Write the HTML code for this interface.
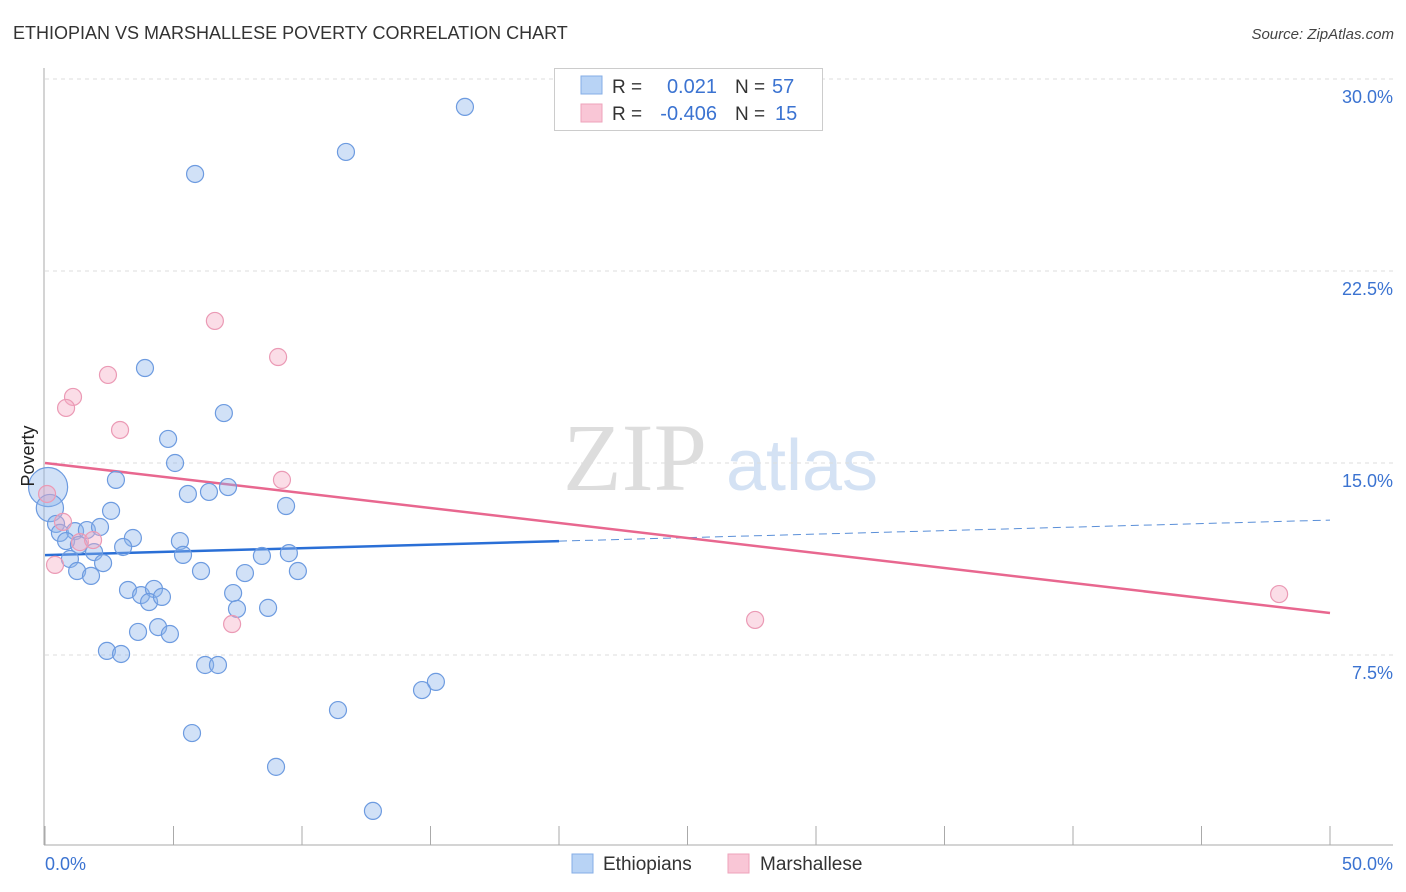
<!DOCTYPE html>
<html><head><meta charset="utf-8"><style>
body{margin:0;background:#fff;font-family:"Liberation Sans",sans-serif}
svg{display:block}
</style></head><body>
<svg id="chart" width="1406" height="892" xmlns="http://www.w3.org/2000/svg">
<text x="13" y="39" font-size="18" fill="#333">ETHIOPIAN VS MARSHALLESE POVERTY CORRELATION CHART</text>
<text x="1394" y="39" font-size="15" fill="#444" font-style="italic" text-anchor="end">Source: ZipAtlas.com</text>
<g><text x="635" y="490" font-size="96" fill="#ddd" font-family="Liberation Serif,serif" text-anchor="middle">ZIP</text><text x="802" y="490" font-size="72" fill="#d4e2f4" text-anchor="middle">atlas</text></g>
<g id="grid"></g><g id="axes"></g>
<g id="trends"></g><g id="points"></g>
<text transform="translate(34,456) rotate(-90)" font-size="18" fill="#222" text-anchor="middle">Poverty</text>
<text x="45" y="870" font-size="18" fill="#3b73d1">0.0%</text>
<text x="1393" y="870" font-size="18" fill="#3b73d1" text-anchor="end">50.0%</text>
<g>
<rect x="554.5" y="68.5" width="268" height="62" fill="#fff" stroke="#ccc"/>
<rect x="581" y="76" width="21" height="18" fill="#b8d3f5" stroke="#85aee6"/>
<rect x="581" y="104" width="21" height="18" fill="#f9c6d6" stroke="#eea3bb"/>
<text x="612" y="93" font-size="19" fill="#333">R = </text><text x="717" y="93" font-size="20" fill="#3b73d1" text-anchor="end">0.021</text>
<text x="735" y="93" font-size="19" fill="#333">N = </text><text x="772" y="93" font-size="20" fill="#3b73d1">57</text>
<text x="612" y="120" font-size="19" fill="#333">R = </text><text x="717" y="120" font-size="20" fill="#3b73d1" text-anchor="end">-0.406</text>
<text x="735" y="120" font-size="19" fill="#333">N = </text><text x="775" y="120" font-size="20" fill="#3b73d1">15</text>
</g>
<g>
<rect x="572" y="854" width="21" height="19" fill="#b8d3f5" stroke="#85aee6"/>
<text x="603" y="870" font-size="19" fill="#333">Ethiopians</text>
<rect x="728" y="854" width="21" height="19" fill="#f9c6d6" stroke="#eea3bb"/>
<text x="760" y="870" font-size="19" fill="#333">Marshallese</text>
</g>
</svg>
<script>
const yTicks=[7.5,15,22.5,30];
const yTickLabels=["7.5%","15.0%","22.5%","30.0%"];
const xTicks=[0,5,10,15,20,25,30,35,40,45,50];
const ethX=[16.34,11.71,5.84,3.89,6.96,4.79,5.06,2.76,5.56,6.38,7.12,9.38,2.57,0.12,0.19,0.43,0.58,1.17,1.63,2.14,0.82,1.32,3.42,3.04,1.91,5.25,5.37,0.97,2.26,1.25,1.79,9.49,8.44,9.84,6.07,7.78,3.23,3.74,4.24,4.05,4.55,7.32,7.47,8.68,4.40,3.62,4.86,2.41,2.96,6.23,6.73,15.21,14.67,11.40,5.72,8.99,12.76];
const ethY=[28.91,27.15,26.29,18.71,16.95,15.94,15.0,14.34,13.79,13.87,14.06,13.32,13.13,14.06,13.24,12.62,12.27,12.34,12.38,12.5,11.95,11.8,12.07,11.72,11.52,11.95,11.41,11.25,11.09,10.78,10.59,11.48,11.37,10.78,10.78,10.70,10.04,9.84,10.08,9.57,9.77,9.92,9.30,9.34,8.59,8.40,8.32,7.66,7.54,7.11,7.11,6.45,6.13,5.35,4.45,3.13,1.41];
const ethSize=[1,1,1,1,1,1,1,1,1,1,1,1,1,2.3,1.6,1,1,1,1,1,1,1,1,1,1,1,1,1,1,1,1,1,1,1,1,1,1,1,1,1,1,1,1,1,1,1,1,1,1,1,1,1,1,1,1,1,1];
const marX=[6.61,9.07,2.45,1.09,0.82,2.92,9.22,0.08,0.70,1.36,1.87,0.39,7.28,27.63,48.02];
const marY=[20.55,19.14,18.44,17.58,17.15,16.29,14.34,13.79,12.70,11.91,11.99,11.02,8.71,8.87,9.88];
const ethTrend=[11.4,12.77]; const ethSolidEnd=20;
const marTrend=[15.0,9.14];
const X=v=>45+v/50*1285, Y=v=>847-v/7.5*192;
const NS="http://www.w3.org/2000/svg";
function mk(p,t,a){const e=document.createElementNS(NS,t);for(const k in a)e.setAttribute(k,a[k]);p.appendChild(e);return e;}
const grid=document.getElementById('grid'),axes=document.getElementById('axes'),tr=document.getElementById('trends'),pts=document.getElementById('points');
yTicks.forEach((t,i)=>{
 const l=mk(grid,'line',{x1:45,x2:1393,y1:Y(t),y2:Y(t),stroke:'#ddd','stroke-dasharray':'4,4'});
 
 
 const tx=mk(grid,'text',{x:1393,y:Y(t)+24,'font-size':18,fill:'#3b73d1','text-anchor':'end'});
 tx.textContent=yTickLabels[i];
 
 
});
const ya=mk(axes,'line',{x1:44,x2:44,y1:68,y2:845,stroke:'#aaa'});


const xa=mk(axes,'line',{x1:44,x2:1393,y1:845,y2:845,stroke:'#aaa'});


xTicks.forEach(t=>{
 const l=mk(axes,'line',{x1:X(t),x2:X(t),y1:826,y2:845,stroke:'#aaa'});
 
 
});
ethX.forEach((x,i)=>{
 const c=mk(pts,'circle',{cx:X(x),cy:Y(ethY[i]),r:8.5*ethSize[i],fill:'rgba(140,180,235,0.4)',stroke:'#6d9be0','stroke-width':1.2});
 
 
});
marX.forEach((x,i)=>{
 const c=mk(pts,'circle',{cx:X(x),cy:Y(marY[i]),r:8.5,fill:'rgba(245,170,195,0.4)',stroke:'#eb9ab5','stroke-width':1.2});
 
 
});
const ey=x=>ethTrend[0]+(ethTrend[1]-ethTrend[0])*x/50;
const e1=mk(tr,'line',{x1:X(0),y1:Y(ey(0)),x2:X(ethSolidEnd),y2:Y(ey(ethSolidEnd)),stroke:'#2a6fd6','stroke-width':2.5});


const e2=mk(tr,'line',{x1:X(ethSolidEnd),y1:Y(ey(ethSolidEnd)),x2:X(50),y2:Y(ey(50)),stroke:'#5a8fd8','stroke-width':1,'stroke-dasharray':'8,5'});


const m=mk(tr,'line',{x1:X(0),y1:Y(marTrend[0]),x2:X(50),y2:Y(marTrend[1]),stroke:'#e8678f','stroke-width':2.5});


</script>
</body></html>
